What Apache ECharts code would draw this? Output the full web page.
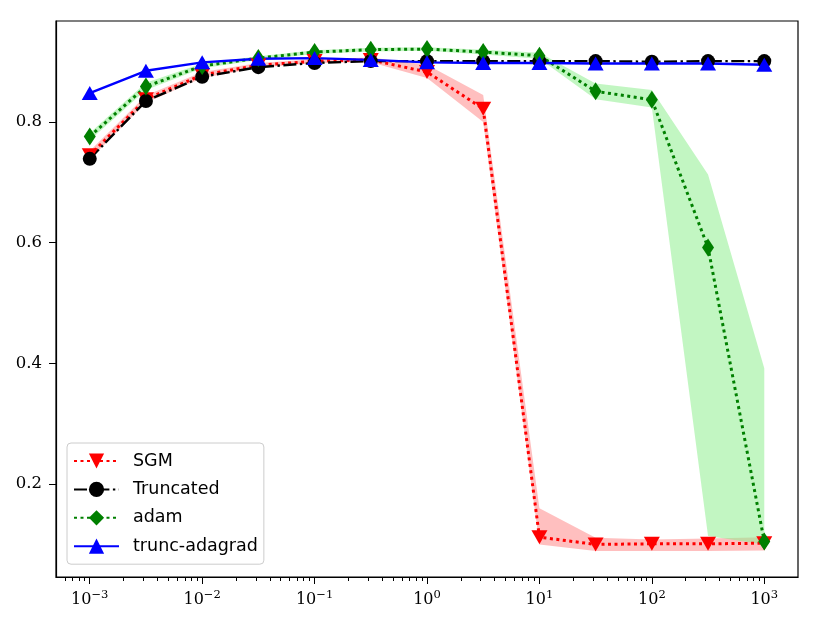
<!DOCTYPE html>
<html>
<head>
<meta charset="utf-8">
<script src="https://cdn.jsdelivr.net/npm/echarts@6/dist/echarts.min.js"></script>
<style>
  html, body { margin: 0; background: #fff; }
  #chart { width: 823px; height: 625px; }
</style>
</head>
<body>
<div id="chart"></div>
<script>
// step sizes (x axis, log scale)
const steps = [0.001, 0.00316, 0.01, 0.0316, 0.1, 0.316, 1, 3.16, 10, 31.6, 100, 316, 1000];

// mean values
const sgm       = [0.745, 0.838, 0.878, 0.894, 0.901, 0.903, 0.883, 0.822, 0.112, 0.100, 0.101, 0.101, 0.102];
const truncated = [0.739, 0.835, 0.875, 0.891, 0.898, 0.901, 0.901, 0.901, 0.901, 0.901, 0.900, 0.901, 0.901];
const adam      = [0.776, 0.859, 0.893, 0.906, 0.916, 0.920, 0.921, 0.916, 0.910, 0.851, 0.837, 0.592, 0.105];
const adagrad   = [0.848, 0.885, 0.899, 0.905, 0.906, 0.903, 0.899, 0.898, 0.898, 0.897, 0.897, 0.897, 0.895];

// shaded bands
const sgmLow   = [0.738, 0.832, 0.873, 0.890, 0.898, 0.899, 0.873, 0.800, 0.100, 0.089, 0.089, 0.089, 0.090];
const sgmHigh  = [0.752, 0.844, 0.883, 0.898, 0.904, 0.907, 0.895, 0.845, 0.160, 0.111, 0.108, 0.110, 0.112];
const adamLow  = [0.770, 0.853, 0.889, 0.903, 0.913, 0.917, 0.918, 0.912, 0.905, 0.838, 0.824, 0.114, 0.100];
const adamHigh = [0.782, 0.865, 0.897, 0.909, 0.919, 0.923, 0.924, 0.920, 0.915, 0.864, 0.853, 0.713, 0.392];

// ticks
const xMajor = [0.001, 0.01, 0.1, 1, 10, 100, 1000];
const yTicks = [0.2, 0.4, 0.6, 0.8];

const xMinor = [];
[0.0001, 0.001, 0.01, 0.1, 1, 10, 100, 1000].forEach(d => {
  for (let k = 2; k <= 9; k++) xMinor.push(+(d * k).toPrecision(3));
});

const pairs = ys => steps.map((x, i) => [x, ys[i]]);

// filled band between lo and hi, positioned through the axes
function band(lo, hi, color) {
  return {
    type: 'custom', z: 1, silent: true,
    data: [[steps[0], lo[0]]],
    renderItem: (params, api) => {
      const top = steps.map((x, i) => api.coord([x, hi[i]]));
      const bottom = steps.map((x, i) => api.coord([x, lo[i]])).reverse();
      return { type: 'polygon', shape: { points: top.concat(bottom) }, style: { fill: color } };
    }
  };
}

const chart = echarts.init(document.getElementById('chart'));

const serif = 'DejaVu Serif';
const dotted = { width: 3, type: [3, 3.5], cap: 'butt' };

chart.setOption({
  animation: false,
  backgroundColor: '#fff',
  grid: { left: 56, right: 25, top: 21, bottom: 48, show: true, borderColor: '#000', borderWidth: 1.2, backgroundColor: 'transparent' },
  legend: {
    data: ['SGM', 'Truncated', 'adam', 'trunc-adagrad'],
    orient: 'vertical', left: 67, top: 443,
    itemWidth: 45, itemHeight: 19, itemGap: 10.4,
    backgroundColor: '#fff', borderColor: '#ccc', borderWidth: 1, borderRadius: 4,
    padding: [9, 6, 9, 6],
    textStyle: { fontFamily: 'DejaVu Sans', fontSize: 17.5, lineHeight: 17, color: '#000', padding: [0, 0, 0, 9] }
  },
  xAxis: [
    {
      type: 'log', logBase: 10, min: 0.000501, max: 1995,
      axisLine: { lineStyle: { color: '#000', width: 1.2 } },
      axisTick: { customValues: xMajor, length: 7, lineStyle: { color: '#000' } },
      axisLabel: {
        customValues: xMajor, margin: 12,
        formatter: v => {
          const e = Math.round(Math.log10(v));
          return '{b|10}{e|' + (e < 0 ? '\u2212' + (-e) : e) + '}';
        },
        rich: {
          b: { fontFamily: serif, fontSize: 16, color: '#000' },
          e: { fontFamily: serif, fontSize: 11.5, color: '#000', padding: [0, 0, 9, 0] }
        }
      },
      splitLine: { show: false }
    },
    {
      type: 'log', logBase: 10, min: 0.000501, max: 1995, position: 'bottom',
      axisLine: { show: false },
      axisTick: { customValues: xMinor, length: 4, lineStyle: { color: '#000' } },
      axisLabel: { show: false },
      splitLine: { show: false }
    }
  ],
  yAxis: {
    type: 'value', min: 0.046, max: 0.9675,
    axisLine: { show: true, lineStyle: { color: '#000', width: 1.2 } },
    axisTick: { show: true, customValues: yTicks, length: 7, lineStyle: { color: '#000' } },
    axisLabel: {
      customValues: yTicks, formatter: v => v.toFixed(1), margin: 14,
      fontFamily: serif, fontSize: 16.5, color: '#000'
    },
    splitLine: { show: false }
  },
  series: [
    band(sgmLow, sgmHigh, 'rgba(255,0,0,0.25)'),
    band(adamLow, adamHigh, 'rgba(144,238,144,0.55)'),
    {
      name: 'SGM', type: 'line', data: pairs(sgm), z: 3,
      symbol: 'triangle', symbolRotate: 180, symbolSize: [16, 14],
      itemStyle: { color: '#ff0000' },
      lineStyle: Object.assign({ color: '#ff0000' }, dotted)
    },
    {
      name: 'Truncated', type: 'line', data: pairs(truncated), z: 3,
      symbol: 'circle', symbolSize: 14,
      itemStyle: { color: '#000' },
      lineStyle: { color: '#000', width: 2.4, type: [13, 3.5, 2.4, 3.5], cap: 'butt' }
    },
    {
      name: 'adam', type: 'line', data: pairs(adam), z: 3,
      symbol: 'diamond', symbolSize: [12, 18],
      itemStyle: { color: '#008000' },
      lineStyle: Object.assign({ color: '#008000' }, dotted)
    },
    {
      name: 'trunc-adagrad', type: 'line', data: pairs(adagrad), z: 3,
      symbol: 'triangle', symbolSize: [16, 14],
      itemStyle: { color: '#0000ff' },
      lineStyle: { color: '#0000ff', width: 2.4 }
    }
  ]
});
</script>
</body>
</html>
